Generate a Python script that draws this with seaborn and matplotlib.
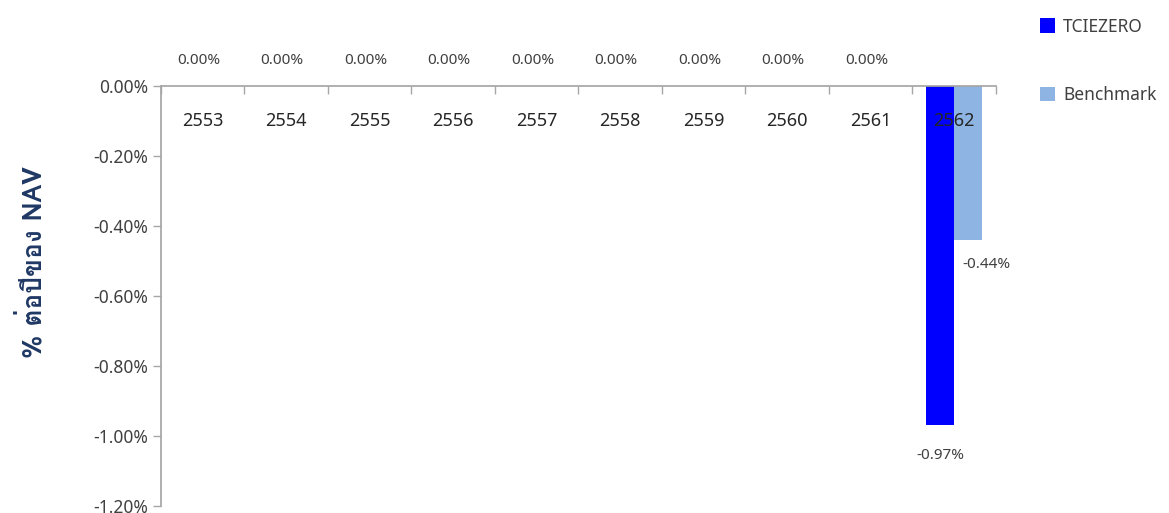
import matplotlib
matplotlib.use("Agg")
import matplotlib.pyplot as plt
from matplotlib import font_manager
from matplotlib.ft2font import FT2Font
import seaborn as sns
import pandas as pd

years = ["2553", "2554", "2555", "2556", "2557", "2558", "2559", "2560", "2561", "2562"]
fund = [0, 0, 0, 0, 0, 0, 0, 0, 0, -0.97]
benchmark = [0, 0, 0, 0, 0, 0, 0, 0, 0, -0.44]
series = ["TCIEZERO", "Benchmark"]
y_ticks = [0, -0.2, -0.4, -0.6, -0.8, -1.0, -1.2]


def find_thai_font():
    # look for any installed font that can draw Thai
    for f in font_manager.fontManager.ttflist:
        try:
            cmap = FT2Font(f.fname).get_charmap()
        except Exception:
            continue
        if ord("ต") in cmap and ord("ป") in cmap:
            return f.name
    return None


sns.set_theme(style="white")
plt.rcParams["font.family"] = ["Noto Sans", "DejaVu Sans"]
thai = find_thai_font()

df = pd.DataFrame({
    "year": years * 2,
    "value": fund + benchmark,
    "series": [series[0]] * len(years) + [series[1]] * len(years),
})

fig = plt.figure(figsize=(11.69, 5.13), dpi=100)
ax = fig.add_axes([0.1377, 0.0137, 0.7143, 0.8187])
sns.barplot(data=df, x="year", y="value", hue="series", palette=["#0000FF", "#8DB4E2"],
            width=0.67, ax=ax, saturation=1, linewidth=0)
ax.set_ylim(-1.2, 0)
ax.set_xlim(-0.5, len(years) - 0.5)
ax.set_yticks(y_ticks)
ax.set_yticklabels([f"{v:.2f}%" for v in y_ticks], fontsize=12.5, color="#404040")

# x axis sits at zero (top), ticks between categories pointing down
ax.set_xticks([i - 0.5 for i in range(len(years) + 1)])
ax.set_xticklabels([])
ax.xaxis.tick_top()
ax.tick_params(axis="x", direction="in", length=6, color="#A6A6A6", width=1)
ax.tick_params(axis="y", direction="out", length=6, color="#A6A6A6", width=1, left=True)
for s in ["right", "bottom"]:
    ax.spines[s].set_visible(False)
for s in ["top", "left"]:
    ax.spines[s].set_color("#A6A6A6")
ax.set_xlabel("")

for i, y in enumerate(years):
    ax.text(i, -0.10, y, ha="center", va="center", fontsize=13, color="#262626")

# data labels
for i in range(len(years)):
    if fund[i] == 0 and benchmark[i] == 0:
        ax.text(i - 0.05, 0.072, f"{fund[i]:.2f}%", ha="center", va="center",
                fontsize=11, color="#404040", clip_on=False)
    else:
        ax.text(i - 0.17, fund[i] - 0.085, f"{fund[i]:.2f}%", ha="center", va="center",
                fontsize=11, color="#404040")
        ax.text(i + 0.39, benchmark[i] - 0.07, f"{benchmark[i]:.2f}%", ha="center", va="center",
                fontsize=11, color="#404040")

fam = [thai, "DejaVu Sans"] if thai else ["DejaVu Sans"]
ax.set_ylabel("% ต่อปีของ NAV", fontsize=19, fontweight="bold", color="#1F3864", family=fam)
ax.yaxis.set_label_coords(-0.137, 0.58)

ax.legend(loc="upper left", bbox_to_anchor=(1031 / 1169, 1 - 9 / 513),
          bbox_transform=fig.transFigure, frameon=False, fontsize=12.5,
          handlelength=0.9, handleheight=0.9, handletextpad=0.45, labelspacing=2.9,
          borderpad=0, labelcolor="#404040")

fig.savefig("out.png", dpi=100)
